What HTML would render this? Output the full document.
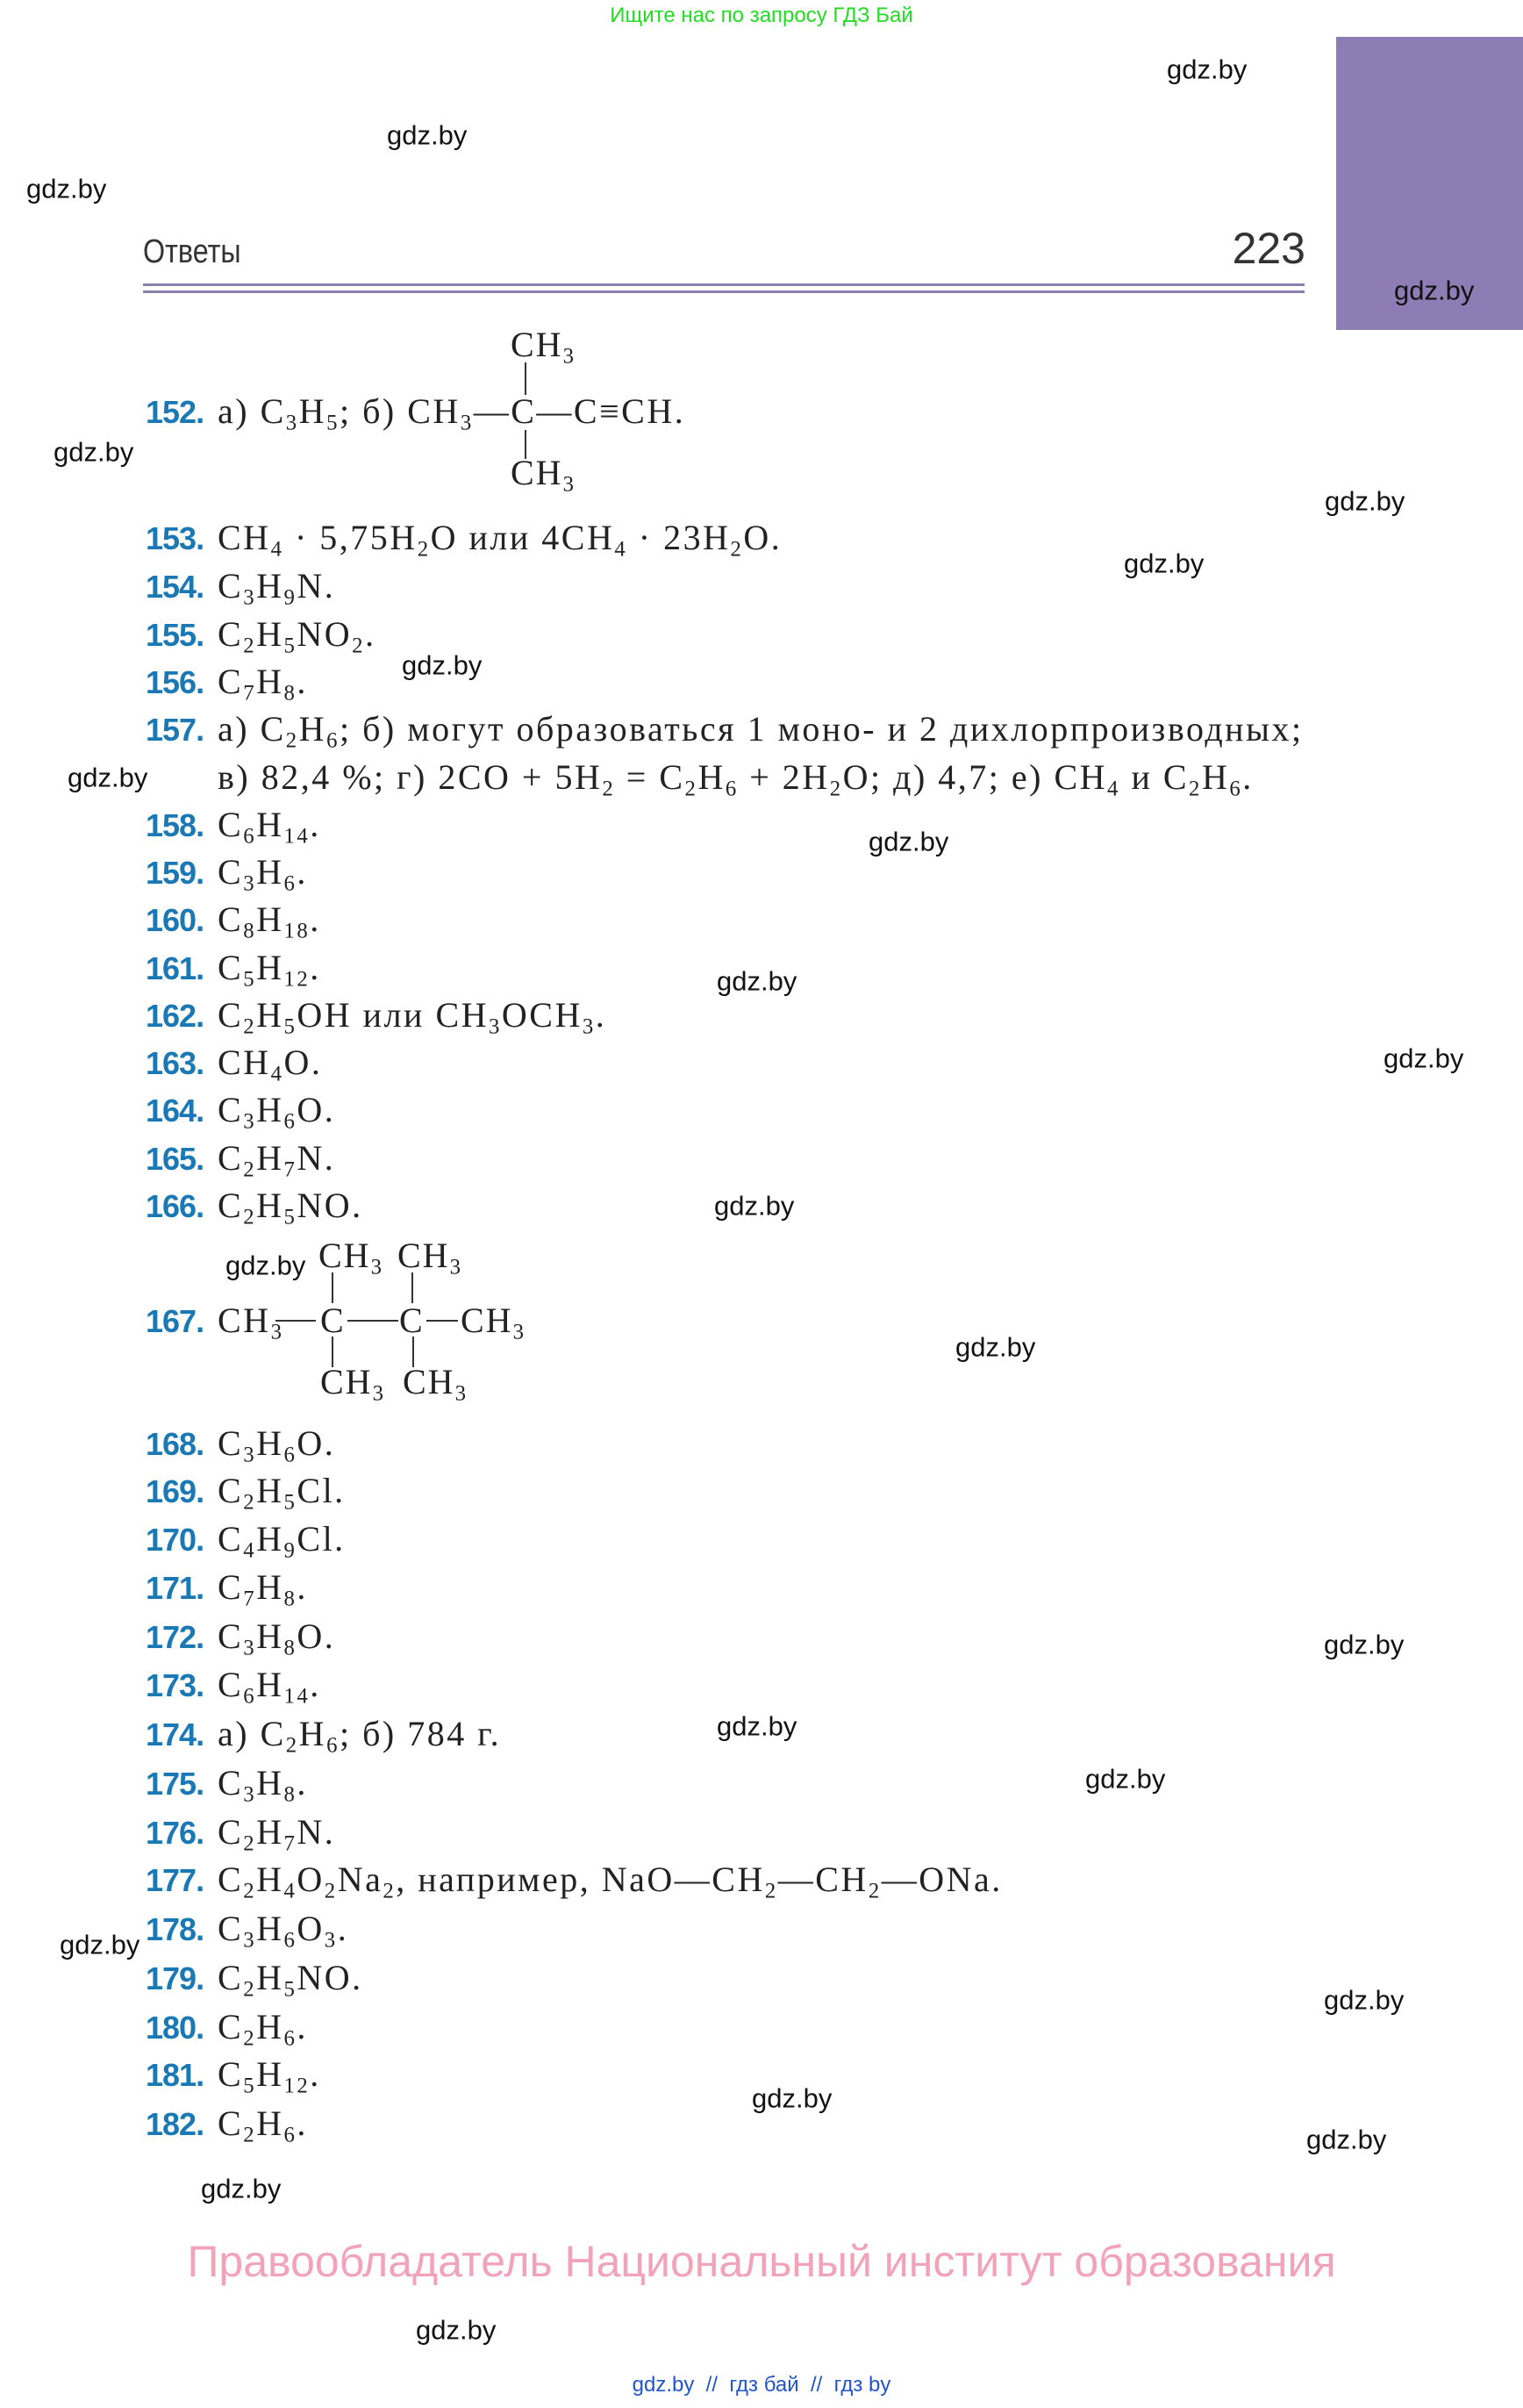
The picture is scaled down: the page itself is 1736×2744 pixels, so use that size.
<!DOCTYPE html>
<html><head><meta charset="utf-8"><style>
body{margin:0;width:1736px;height:2744px;background:#fff;position:relative;overflow:hidden;font-family:"Liberation Serif",serif;}
.a{position:absolute;white-space:nowrap;}
.w{position:absolute;font-family:"Liberation Sans",sans-serif;font-size:31px;color:#111;line-height:1;transform:translateY(-50%);}
.l{position:absolute;left:166px;font-size:40px;line-height:52px;color:#222;white-space:nowrap;letter-spacing:2.5px;}
.n{font-family:"Liberation Sans",sans-serif;font-weight:bold;color:#1a78b4;font-size:36px;display:inline-block;width:82px;letter-spacing:-1px;}
sub{font-size:0.62em;vertical-align:-0.3em;line-height:0;}
.v{position:absolute;width:2px;background:#333;}
.h{position:absolute;height:2px;background:#333;}
.s{position:absolute;font-size:40px;line-height:52px;color:#222;white-space:nowrap;letter-spacing:2px;}
</style></head><body>
<div class="a" style="left:0;width:1736px;text-align:center;top:4px;font-family:'Liberation Sans',sans-serif;font-size:24px;color:#22dd22;">Ищите нас по запросу ГДЗ Бай</div>
<div class="a" style="left:1523px;top:42px;width:213px;height:334px;background:#8e7cb5;"></div>
<div class="a" style="left:163px;top:266px;font-family:'Liberation Sans',sans-serif;font-size:38px;color:#333;transform:scaleX(0.85);transform-origin:left;">Ответы</div>
<div class="a" style="left:1400px;width:88px;text-align:right;top:254px;font-family:'Liberation Sans',sans-serif;font-size:50px;color:#333;">223</div>
<div class="a" style="left:163px;top:323px;width:1324px;height:3px;background:#8a80aa;"></div>
<div class="a" style="left:163px;top:331px;width:1324px;height:3px;background:#8a80aa;"></div>

<!-- 152 structure -->
<div class="s" style="left:582px;top:367px;">CH<sub>3</sub></div>
<div class="v" style="left:598px;top:413px;height:37px;"></div>
<div class="l" style="top:443px;"><span class="n">152.</span>а) C<sub>3</sub>H<sub>5</sub>; б) CH<sub>3</sub>—C—C≡CH.</div>
<div class="v" style="left:598px;top:490px;height:33px;"></div>
<div class="s" style="left:582px;top:513px;">CH<sub>3</sub></div>

<div class="l" style="top:587px;"><span class="n">153.</span>CH<sub>4</sub> · 5,75H<sub>2</sub>O или 4CH<sub>4</sub> · 23H<sub>2</sub>O.</div>
<div class="l" style="top:642px;"><span class="n">154.</span>C<sub>3</sub>H<sub>9</sub>N.</div>
<div class="l" style="top:697px;"><span class="n">155.</span>C<sub>2</sub>H<sub>5</sub>NO<sub>2</sub>.</div>
<div class="l" style="top:751px;"><span class="n">156.</span>C<sub>7</sub>H<sub>8</sub>.</div>
<div class="l" style="top:805px;"><span class="n">157.</span>а) C<sub>2</sub>H<sub>6</sub>; б) могут образоваться 1 моно- и 2 дихлорпроизводных;</div>
<div class="l" style="top:860px;"><span class="n"></span>в) 82,4 %; г) 2CO + 5H<sub>2</sub> = C<sub>2</sub>H<sub>6</sub> + 2H<sub>2</sub>O; д) 4,7; е) CH<sub>4</sub> и C<sub>2</sub>H<sub>6</sub>.</div>
<div class="l" style="top:914px;"><span class="n">158.</span>C<sub>6</sub>H<sub>14</sub>.</div>
<div class="l" style="top:968px;"><span class="n">159.</span>C<sub>3</sub>H<sub>6</sub>.</div>
<div class="l" style="top:1022px;"><span class="n">160.</span>C<sub>8</sub>H<sub>18</sub>.</div>
<div class="l" style="top:1077px;"><span class="n">161.</span>C<sub>5</sub>H<sub>12</sub>.</div>
<div class="l" style="top:1131px;"><span class="n">162.</span>C<sub>2</sub>H<sub>5</sub>OH или CH<sub>3</sub>OCH<sub>3</sub>.</div>
<div class="l" style="top:1185px;"><span class="n">163.</span>CH<sub>4</sub>O.</div>
<div class="l" style="top:1239px;"><span class="n">164.</span>C<sub>3</sub>H<sub>6</sub>O.</div>
<div class="l" style="top:1294px;"><span class="n">165.</span>C<sub>2</sub>H<sub>7</sub>N.</div>
<div class="l" style="top:1348px;"><span class="n">166.</span>C<sub>2</sub>H<sub>5</sub>NO.</div>

<!-- 167 structure -->
<div class="s" style="left:363px;top:1405px;">CH<sub>3</sub></div>
<div class="s" style="left:453px;top:1405px;">CH<sub>3</sub></div>
<div class="v" style="left:378px;top:1450px;height:35px;"></div>
<div class="v" style="left:469px;top:1450px;height:35px;"></div>
<div class="l" style="top:1479px;"><span class="n">167.</span>CH<sub>3</sub></div>
<div class="h" style="left:314px;top:1504px;width:46px;"></div>
<div class="s" style="left:365px;top:1479px;">C</div>
<div class="h" style="left:396px;top:1504px;width:58px;"></div>
<div class="s" style="left:455px;top:1479px;">C</div>
<div class="h" style="left:486px;top:1504px;width:36px;"></div>
<div class="s" style="left:525px;top:1479px;">CH<sub>3</sub></div>
<div class="v" style="left:378px;top:1523px;height:35px;"></div>
<div class="v" style="left:470px;top:1523px;height:35px;"></div>
<div class="s" style="left:365px;top:1549px;">CH<sub>3</sub></div>
<div class="s" style="left:459px;top:1549px;">CH<sub>3</sub></div>

<div class="l" style="top:1619px;"><span class="n">168.</span>C<sub>3</sub>H<sub>6</sub>O.</div>
<div class="l" style="top:1673px;"><span class="n">169.</span>C<sub>2</sub>H<sub>5</sub>Cl.</div>
<div class="l" style="top:1728px;"><span class="n">170.</span>C<sub>4</sub>H<sub>9</sub>Cl.</div>
<div class="l" style="top:1783px;"><span class="n">171.</span>C<sub>7</sub>H<sub>8</sub>.</div>
<div class="l" style="top:1839px;"><span class="n">172.</span>C<sub>3</sub>H<sub>8</sub>O.</div>
<div class="l" style="top:1894px;"><span class="n">173.</span>C<sub>6</sub>H<sub>14</sub>.</div>
<div class="l" style="top:1950px;"><span class="n">174.</span>а) C<sub>2</sub>H<sub>6</sub>; б) 784 г.</div>
<div class="l" style="top:2006px;"><span class="n">175.</span>C<sub>3</sub>H<sub>8</sub>.</div>
<div class="l" style="top:2062px;"><span class="n">176.</span>C<sub>2</sub>H<sub>7</sub>N.</div>
<div class="l" style="top:2116px;"><span class="n">177.</span>C<sub>2</sub>H<sub>4</sub>O<sub>2</sub>Na<sub>2</sub>, например, NaO—CH<sub>2</sub>—CH<sub>2</sub>—ONa.</div>
<div class="l" style="top:2172px;"><span class="n">178.</span>C<sub>3</sub>H<sub>6</sub>O<sub>3</sub>.</div>
<div class="l" style="top:2228px;"><span class="n">179.</span>C<sub>2</sub>H<sub>5</sub>NO.</div>
<div class="l" style="top:2284px;"><span class="n">180.</span>C<sub>2</sub>H<sub>6</sub>.</div>
<div class="l" style="top:2338px;"><span class="n">181.</span>C<sub>5</sub>H<sub>12</sub>.</div>
<div class="l" style="top:2394px;"><span class="n">182.</span>C<sub>2</sub>H<sub>6</sub>.</div>

<div class="w" style="left:1330px;top:79px;">gdz.by</div>
<div class="w" style="left:441px;top:154px;">gdz.by</div>
<div class="w" style="left:30px;top:215px;">gdz.by</div>
<div class="w" style="left:1589px;top:331px;">gdz.by</div>
<div class="w" style="left:61px;top:515px;">gdz.by</div>
<div class="w" style="left:1510px;top:571px;">gdz.by</div>
<div class="w" style="left:1281px;top:642px;">gdz.by</div>
<div class="w" style="left:458px;top:758px;">gdz.by</div>
<div class="w" style="left:77px;top:886px;">gdz.by</div>
<div class="w" style="left:990px;top:959px;">gdz.by</div>
<div class="w" style="left:817px;top:1118px;">gdz.by</div>
<div class="w" style="left:1577px;top:1206px;">gdz.by</div>
<div class="w" style="left:814px;top:1374px;">gdz.by</div>
<div class="w" style="left:257px;top:1442px;">gdz.by</div>
<div class="w" style="left:1089px;top:1535px;">gdz.by</div>
<div class="w" style="left:1509px;top:1874px;">gdz.by</div>
<div class="w" style="left:817px;top:1967px;">gdz.by</div>
<div class="w" style="left:1237px;top:2027px;">gdz.by</div>
<div class="w" style="left:68px;top:2216px;">gdz.by</div>
<div class="w" style="left:1509px;top:2279px;">gdz.by</div>
<div class="w" style="left:857px;top:2391px;">gdz.by</div>
<div class="w" style="left:1489px;top:2438px;">gdz.by</div>
<div class="w" style="left:229px;top:2494px;">gdz.by</div>
<div class="w" style="left:474px;top:2655px;">gdz.by</div>

<div class="a" style="left:0;width:1736px;text-align:center;top:2548px;font-family:'Liberation Sans',sans-serif;font-size:50px;color:#f2a3bb;">Правообладатель Национальный институт образования</div>
<div class="a" style="left:0;width:1736px;text-align:center;top:2704px;font-family:'Liberation Sans',sans-serif;font-size:24px;color:#2255cc;">gdz.by &nbsp;// &nbsp;гдз бай &nbsp;// &nbsp;гдз by</div>
</body></html>
